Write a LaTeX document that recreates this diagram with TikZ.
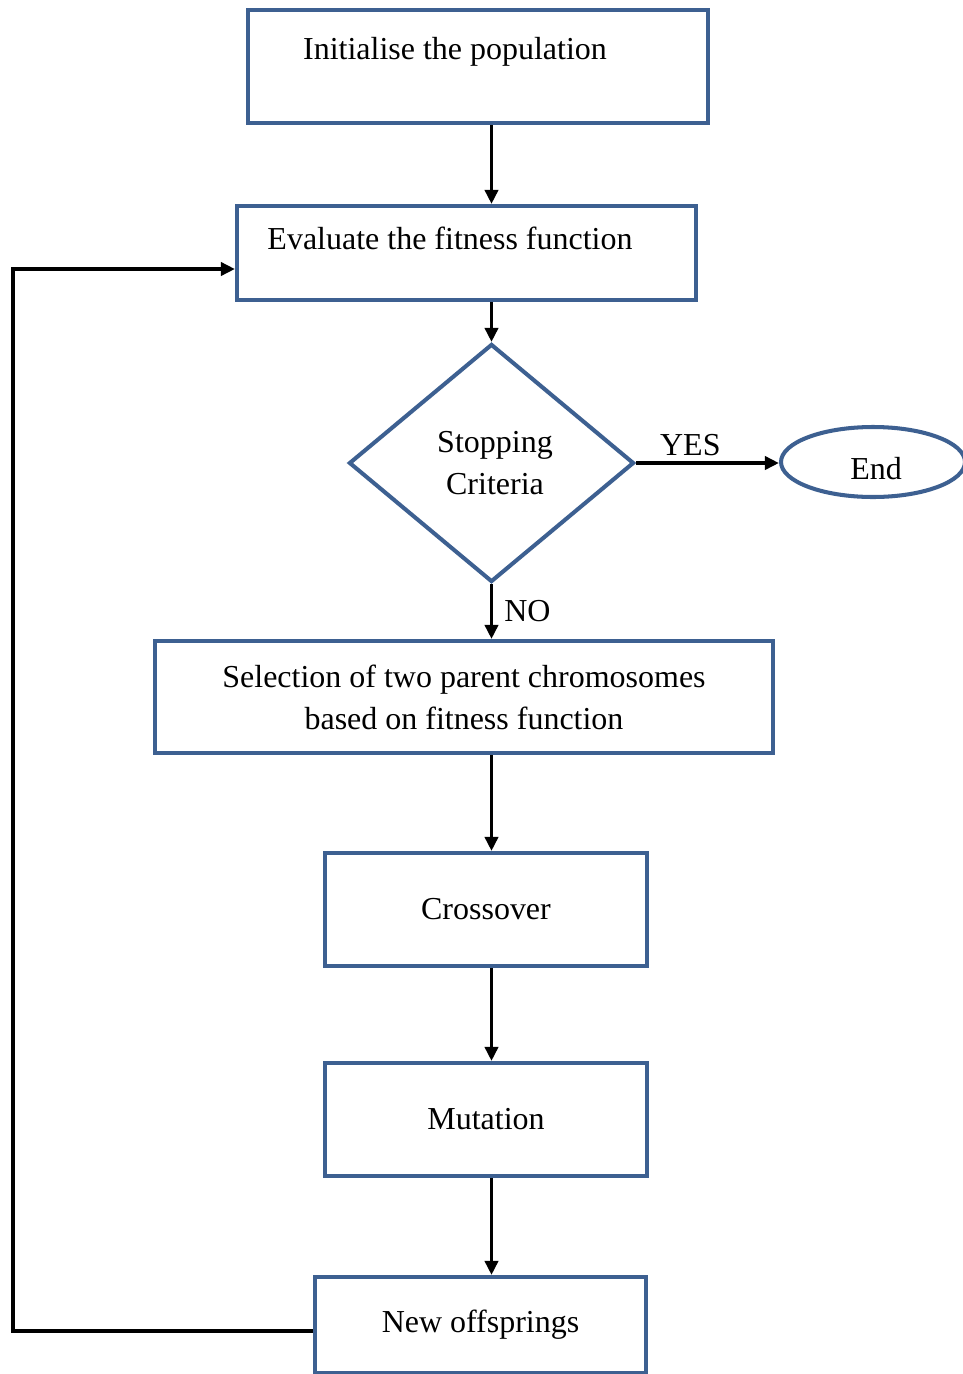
\documentclass[tikz,border=0pt]{standalone}
\usepackage{fontspec}
\setmainfont{Liberation Serif}
\usetikzlibrary{shapes.geometric,arrows.meta}
\definecolor{boxblue}{HTML}{3D6091}
\begin{document}
\begin{tikzpicture}[>={Triangle[length=0.28cm,width=0.26cm]},line width=2pt,
  font=\fontsize{18.2}{24}\selectfont,
  box/.style={draw=boxblue,line width=2.3pt,rectangle,inner sep=0pt,align=center},
  decision/.style={draw=boxblue,line width=2.3pt,diamond,inner sep=0pt,align=center},
  terminal/.style={draw=boxblue,line width=2.3pt,ellipse,inner sep=0pt}]
\useasboundingbox (0,0) rectangle (19.26,-27.48);
\node[box,minimum width=9.2cm,minimum height=2.26cm,
  label={[xshift=-0.46cm,yshift=0.3cm]center:Initialise the population}] (init) at (9.56,-1.33) {};
\node[box,minimum width=9.18cm,minimum height=1.88cm,
  label={[xshift=-0.33cm,yshift=0.3cm]center:Evaluate the fitness function}] (eval) at (9.33,-5.06) {};
\node[decision,minimum width=5.7cm,minimum height=4.76cm] (crit) at (9.83,-9.26) {\hspace{0.14cm}Stopping\\\hspace{0.14cm}Criteria};
\node[terminal,minimum width=3.68cm,minimum height=1.4cm,
  label={[xshift=0.06cm,yshift=-0.14cm]center:End}] (end) at (17.46,-9.24) {};
\node[box,minimum width=12.36cm,minimum height=2.24cm] (select) at (9.28,-13.94)
  {Selection of two parent chromosomes\\based on fitness function};
\node[box,minimum width=6.44cm,minimum height=2.26cm] (cross) at (9.72,-18.19) {Crossover};
\node[box,minimum width=6.44cm,minimum height=2.26cm] (mut) at (9.72,-22.39) {Mutation};
\node[box,minimum width=6.62cm,minimum height=1.92cm] (new) at (9.61,-26.5) {New offsprings};
\coordinate (corner) at (0.26,-5.38);
\draw[->] (init.south -| crit) -- (eval.north -| crit);
\draw[->] (eval.south -| crit) -- (crit.north);
\draw[->] (crit.east) -- node[above,pos=0.38,inner sep=3pt] {YES} (crit.east -| end.west);
\draw[->] (crit.south) -- node[right,xshift=3pt] {NO} (select.north -| crit);
\draw[->] (select.south -| crit) -- (cross.north -| crit);
\draw[->] (cross.south -| crit) -- (mut.north -| crit);
\draw[->] (mut.south -| crit) -- (new.north -| crit);
\draw[->] ([yshift=-0.12cm]new.west) -| (corner) -- (corner -| eval.west);
\end{tikzpicture}
\end{document}
